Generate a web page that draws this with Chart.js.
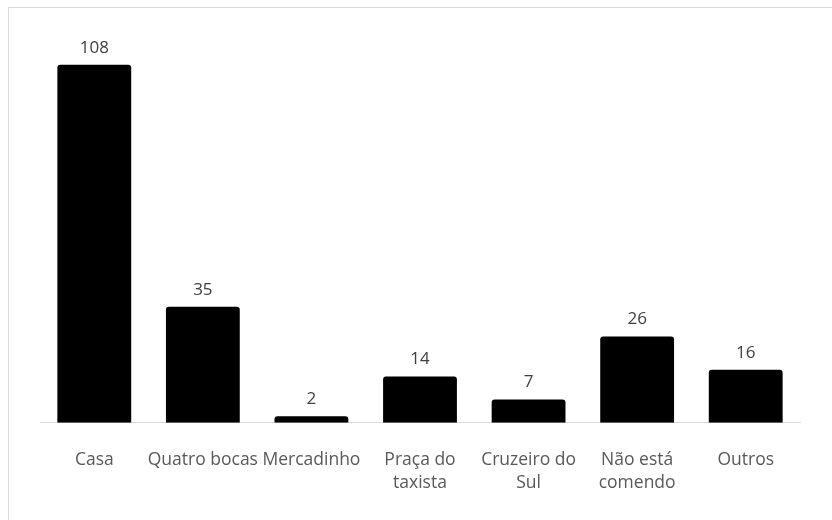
<!DOCTYPE html>
<html>
<head>
<meta charset="utf-8">
<script src="https://cdn.jsdelivr.net/npm/chart.js@4"></script>
<style>
  html, body { margin: 0; padding: 0; background: #fff; }
  body { width: 832px; height: 520px; position: relative; overflow: hidden; }
  #frame {
    position: absolute; left: 8px; top: 7px; width: 900px; height: 600px;
    border: 1px solid #d9d9d9; box-sizing: border-box;
  }
  #wrap { position: absolute; left: 0; top: 0; width: 832px; height: 520px; }
</style>
</head>
<body>
<div id="frame"></div>
<div id="wrap"><canvas id="chart"></canvas></div>
<script>
const categories = ['Casa', 'Quatro bocas', 'Mercadinho', ['Praça do', 'taxista'], ['Cruzeiro do', 'Sul'], ['Não está', 'comendo'], 'Outros'];
const counts = [108, 35, 2, 14, 7, 26, 16];

// value above each bar
const valueLabels = {
  id: 'valueLabels',
  afterDatasetsDraw(chart) {
    const ctx = chart.ctx;
    ctx.save();
    ctx.font = '17px "Open Sans"';
    ctx.fillStyle = '#404040';
    ctx.textAlign = 'center';
    ctx.textBaseline = 'middle';
    chart.getDatasetMeta(0).data.forEach((bar, i) => {
      ctx.fillText(counts[i], bar.x, bar.y - 17);
    });
    ctx.restore();
  }
};

new Chart(document.getElementById('chart'), {
  type: 'bar',
  data: {
    labels: categories,
    datasets: [{
      data: counts,
      backgroundColor: '#000000',
      borderRadius: 3,
      borderSkipped: 'bottom',
      barPercentage: 0.68,
      categoryPercentage: 1
    }]
  },
  options: {
    responsive: true,
    maintainAspectRatio: false,
    animation: false,
    layout: { padding: { left: 40, right: 32, top: 25, bottom: 7 } },
    plugins: { legend: { display: false }, tooltip: { enabled: false } },
    scales: {
      x: {
        grid: { display: false },
        border: { color: '#d9d9d9', width: 1 },
        ticks: {
          color: '#595959',
          font: { family: '"Open Sans"', size: 17.5, lineHeight: 1.32 },
          padding: 18,
          maxRotation: 0,
          autoSkip: false
        }
      },
      y: { display: false, min: 0, max: 120 }
    }
  },
  plugins: [valueLabels]
});
</script>
</body>
</html>
